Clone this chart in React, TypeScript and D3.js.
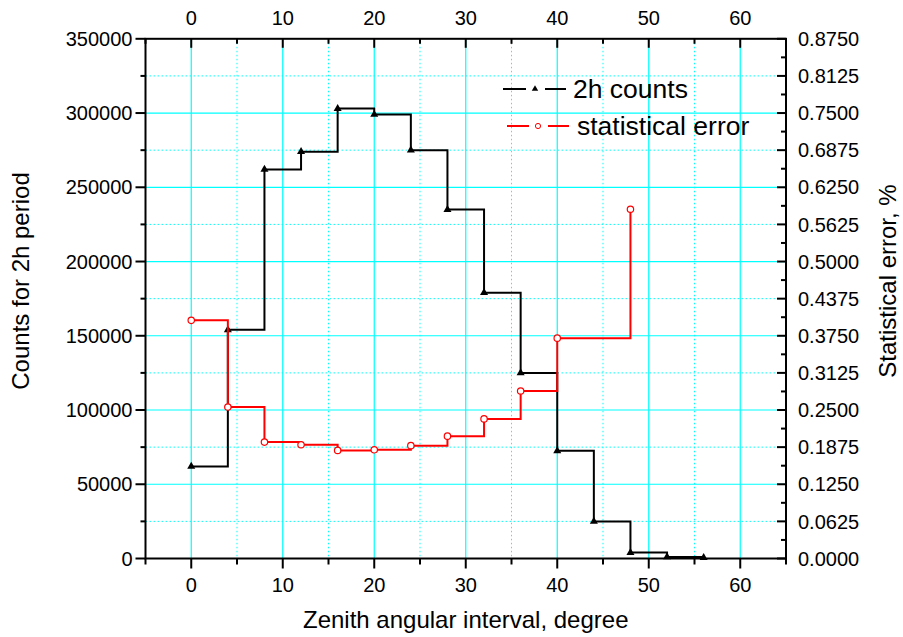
import React from "react";
import * as d3 from "d3";

const angles = [0, 4, 8, 12, 16, 20, 24, 28, 32, 36, 40, 44, 48, 52, 56];
const counts = [62000, 154000, 262000, 274000, 303000, 299000, 275000, 235000, 179000, 125000, 72500, 25000, 4000, 1000, 600];
const errAngles = [0, 4, 8, 12, 16, 20, 24, 28, 32, 36, 40, 48];
const errors = [0.401, 0.255, 0.196, 0.1915, 0.182, 0.183, 0.19, 0.206, 0.235, 0.282, 0.371, 0.588];
const xMajor = [0, 10, 20, 30, 40, 50, 60];
const xMinor = [-5, 5, 15, 25, 35, 45, 55, 65];
const yMajor = [0, 50000, 100000, 150000, 200000, 250000, 300000, 350000];
const yMinor = [25000, 75000, 125000, 175000, 225000, 275000, 325000];
const rMajor = [0, 0.0625, 0.125, 0.1875, 0.25, 0.3125, 0.375, 0.4375, 0.5, 0.5625, 0.625, 0.6875, 0.75, 0.8125, 0.875];
const rMinor = rMajor.slice(0, -1).map((v) => v + 0.03125);
const rLabels = ["0.0000", "0.0625", "0.1250", "0.1875", "0.2500", "0.3125", "0.3750", "0.4375", "0.5000", "0.5625", "0.6250", "0.6875", "0.7500", "0.8125", "0.8750"];

const W = 903, H = 637;
const L = 145.5, R = 786, T = 38.8, B = 558.5;
const FONT = "'Liberation Sans', Arial, sans-serif";

export default function App() {
  const x = d3.scaleLinear().domain([-5, 65]).range([L, R]);
  const y = d3.scaleLinear().domain([0, 350000]).range([B, T]);
  const yr = d3.scaleLinear().domain([0, 0.875]).range([B, T]);

  const blackLine = d3.line<number>().x((_, i) => x(angles[i])).y((d) => y(d)).curve(d3.curveStepAfter)(counts) || "";
  const redLine = d3.line<number>().x((_, i) => x(errAngles[i])).y((d) => yr(d)).curve(d3.curveStepAfter)(errors) || "";
  const tri = d3.symbol().type(d3.symbolTriangle).size(28)() || "";
  const triSmall = d3.symbol().type(d3.symbolTriangle).size(18)() || "";

  const cyan = "#00FFFF";
  const tickFs = 20;

  return (
    <div style={{ position: "absolute", left: 0, top: 0 }}>
      <svg width={W} height={H} style={{ display: "block", background: "#fff" }} fontFamily={FONT}>
        <rect x={0} y={0} width={W} height={H} fill="#fff" />
        {/* grid */}
        {xMinor.filter((v) => v > -5 && v < 65).map((v) => (
          <line key={"gxm" + v} x1={x(v)} x2={x(v)} y1={T} y2={B} stroke={cyan} strokeWidth={1} strokeDasharray="1.5,2.5" />
        ))}
        {yMinor.map((v) => (
          <line key={"gym" + v} x1={L} x2={R} y1={y(v)} y2={y(v)} stroke={cyan} strokeWidth={1} strokeDasharray="1.5,2.5" />
        ))}
        {xMajor.map((v) => (
          <line key={"gx" + v} x1={x(v)} x2={x(v)} y1={T} y2={B} stroke={cyan} strokeWidth={1.2} />
        ))}
        {yMajor.filter((v) => v > 0 && v < 350000).map((v) => (
          <line key={"gy" + v} x1={L} x2={R} y1={y(v)} y2={y(v)} stroke={cyan} strokeWidth={1.2} />
        ))}

        {/* data: counts */}
        <path d={blackLine} fill="none" stroke="#000" strokeWidth={2} />
        {counts.map((c, i) => (
          <path key={"t" + i} d={tri} transform={`translate(${x(angles[i])},${y(c)})`} fill="#000" />
        ))}
        {/* data: error */}
        <path d={redLine} fill="none" stroke="#FF0000" strokeWidth={2} />
        {errors.map((e, i) => (
          <circle key={"c" + i} cx={x(errAngles[i])} cy={yr(e)} r={3.2} fill="#fff" stroke="#FF0000" strokeWidth={1.2} />
        ))}

        {/* frame */}
        <rect x={L} y={T} width={R - L} height={B - T} fill="none" stroke="#000" strokeWidth={2} />

        {/* bottom/top axis ticks */}
        {xMajor.map((v) => (
          <g key={"bx" + v}>
            <line x1={x(v)} x2={x(v)} y1={B} y2={B + 10} stroke="#000" strokeWidth={2} />
            <text x={x(v)} y={592} textAnchor="middle" fontSize={tickFs}>{v}</text>
            <line x1={x(v)} x2={x(v)} y1={T} y2={T + 9} stroke="#000" strokeWidth={2} />
            <text x={x(v)} y={25} textAnchor="middle" fontSize={tickFs}>{v}</text>
          </g>
        ))}
        {xMinor.map((v) => (
          <g key={"bxm" + v}>
            <line x1={x(v)} x2={x(v)} y1={B} y2={B + 6} stroke="#000" strokeWidth={2} />
            <line x1={x(v)} x2={x(v)} y1={T} y2={T + 5} stroke="#000" strokeWidth={2} />
          </g>
        ))}
        {/* left axis */}
        {yMajor.map((v) => (
          <g key={"ly" + v}>
            <line x1={L - 10} x2={L} y1={y(v)} y2={y(v)} stroke="#000" strokeWidth={2} />
            <text x={L - 13} y={y(v)} dy="0.36em" textAnchor="end" fontSize={tickFs}>{v}</text>
          </g>
        ))}
        {yMinor.map((v) => (
          <line key={"lym" + v} x1={L - 5} x2={L} y1={y(v)} y2={y(v)} stroke="#000" strokeWidth={2} />
        ))}
        {/* right axis */}
        {rMajor.map((v, i) => (
          <g key={"ry" + v}>
            <line x1={R - 9} x2={R} y1={yr(v)} y2={yr(v)} stroke="#000" strokeWidth={2} />
            <text x={R + 12} y={yr(v)} dy="0.36em" textAnchor="start" fontSize={tickFs}>{rLabels[i]}</text>
          </g>
        ))}
        {rMinor.map((v) => (
          <line key={"rym" + v} x1={R - 5} x2={R} y1={yr(v)} y2={yr(v)} stroke="#000" strokeWidth={2} />
        ))}

        {/* titles */}
        <text x={(L + R) / 2} y={628} textAnchor="middle" fontSize={24}>Zenith angular interval, degree</text>
        <text transform={`translate(29,281) rotate(-90)`} textAnchor="middle" fontSize={24}>Counts for 2h period</text>
        <text transform={`translate(896,281) rotate(-90)`} textAnchor="middle" fontSize={24}>Statistical error, %</text>

        {/* legend */}
        <line x1={503} x2={526} y1={89} y2={89} stroke="#000" strokeWidth={2} />
        <line x1={545} x2={566} y1={89} y2={89} stroke="#000" strokeWidth={2} />
        <path d={triSmall} transform="translate(535,89)" fill="#000" />
        <text x={573} y={98} fontSize={26.5}>2h counts</text>
        <line x1={507} x2={529} y1={126} y2={126} stroke="#FF0000" strokeWidth={2} />
        <line x1={548} x2={569} y1={126} y2={126} stroke="#FF0000" strokeWidth={2} />
        <circle cx={538} cy={126} r={2.6} fill="#fff" stroke="#FF0000" strokeWidth={1} />
        <text x={577} y={135} fontSize={26.5}>statistical error</text>
      </svg>
    </div>
  );
}
